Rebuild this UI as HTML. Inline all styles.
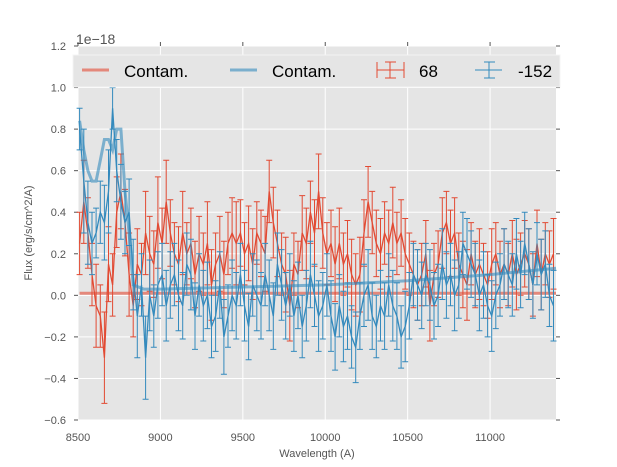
<!DOCTYPE html>
<html><head><meta charset="utf-8"><style>
body{margin:0;background:#fff;}
svg{display:block;font-family:"Liberation Sans",sans-serif;}
</style></head><body>
<svg id="chart" width="617" height="467" viewBox="0 0 617 467" xmlns="http://www.w3.org/2000/svg">
<rect x="78" y="46" width="478" height="374" fill="#e5e5e5"/>
<g id="grid"></g>
<g id="ticks"></g>
<g id="series"></g>
<text x="76" y="44" font-size="14" fill="#555">1e−18</text>
<text x="317" y="457" font-size="11" fill="#555" text-anchor="middle">Wavelength (A)</text>
<text x="32" y="233" font-size="11" fill="#555" text-anchor="middle" transform="rotate(-90 32 233)">Flux (erg/s/cm^2/A)</text>
<g>
<rect x="73" y="55" width="487" height="32" fill="#e5e5e5" stroke="#f4f4f4" stroke-width="1"/>
<g>
<line x1="82" y1="70" x2="109" y2="70" stroke="#E24A33" stroke-opacity="0.6" stroke-width="3"/>
<text x="124" y="77" font-size="17" fill="#000">Contam.</text></g>
<g>
<line x1="230" y1="70" x2="257" y2="70" stroke="#348ABD" stroke-opacity="0.6" stroke-width="3"/>
<text x="272" y="77" font-size="17" fill="#000">Contam.</text></g>
<g stroke="#E24A33" stroke-width="1">
<line x1="377" y1="70" x2="404" y2="70"/><line x1="377" y1="62" x2="377" y2="78"/><line x1="404" y1="62" x2="404" y2="78"/><line x1="385" y1="62" x2="396" y2="62"/><line x1="385" y1="78" x2="396" y2="78"/><line x1="390" y1="62" x2="390" y2="78"/>
<text x="419" y="77" font-size="17" fill="#000" stroke="none">68</text></g>
<g stroke="#348ABD" stroke-width="1">
<line x1="475" y1="70" x2="502" y2="70"/><line x1="484" y1="62" x2="495" y2="62"/><line x1="484" y1="78" x2="495" y2="78"/><line x1="489" y1="62" x2="489" y2="78"/>
<text x="518" y="77" font-size="17" fill="#000" stroke="none">-152</text></g>
</g>
</svg>
<script>
const wavelengths=[8510,8535,8560,8585,8610,8635,8660,8685,8710,8735,8760,8785,8810,8835,8860,8885,8910,8935,8960,8985,9010,9035,9060,9085,9110,9135,9160,9185,9210,9235,9260,9285,9310,9335,9360,9385,9410,9435,9460,9485,9510,9535,9560,9585,9610,9635,9660,9685,9710,9735,9760,9785,9810,9835,9860,9885,9910,9935,9960,9985,10010,10035,10060,10085,10110,10135,10160,10185,10210,10235,10260,10285,10310,10335,10360,10385,10410,10435,10460,10485,10510,10535,10560,10585,10610,10635,10660,10685,10710,10735,10760,10785,10810,10835,10860,10885,10910,10935,10960,10985,11010,11035,11060,11085,11110,11135,11160,11185,11210,11235,11260,11285,11310,11335,11360,11385];
const flux68=[0.25,0.45,0.3,0.1,-0.05,-0.1,-0.3,0.15,0.05,0.4,0.5,0.35,0.1,-0.05,0.15,0.1,0.3,0.2,0.15,0.35,0.25,0.45,0.3,0.2,0.15,0.3,0.2,0.25,0.1,0.2,0.15,0.25,0.05,0.15,0.2,0.1,0.25,0.3,0.25,0.3,0.2,0.25,0.15,0.3,0.25,0.2,0.5,0.35,0.25,0.15,0.1,-0.05,0.15,0.1,0.3,0.25,0.4,0.3,0.5,0.3,0.2,0.25,0.15,0.25,0.15,0.2,0.1,0.05,0.1,0.3,0.45,0.35,0.25,0.2,0.3,0.25,0.35,0.25,0.3,0.2,0.15,0.1,0.05,0.1,0.2,-0.05,0.1,0.15,0.3,0.35,0.25,0.3,0.15,0.1,0.05,0.2,0.1,0.15,0.1,0.05,0.15,0.2,0.1,0.15,0.1,0.2,0.1,0.15,0.2,0.15,0.05,0.25,0.1,0.2,0.15,0.2];
const err68=[0.15,0.2,0.17,0.15,0.2,0.15,0.22,0.18,0.15,0.17,0.18,0.16,0.2,0.15,0.17,0.15,0.2,0.18,0.16,0.22,0.17,0.2,0.16,0.15,0.18,0.2,0.15,0.17,0.16,0.18,0.15,0.2,0.17,0.15,0.18,0.16,0.15,0.17,0.2,0.16,0.15,0.18,0.17,0.15,0.16,0.18,0.15,0.17,0.16,0.15,0.18,0.17,0.15,0.16,0.18,0.17,0.15,0.16,0.18,0.17,0.15,0.16,0.18,0.17,0.15,0.16,0.17,0.15,0.18,0.16,0.17,0.15,0.16,0.17,0.15,0.16,0.17,0.15,0.16,0.17,0.15,0.16,0.17,0.15,0.16,0.17,0.15,0.16,0.17,0.15,0.16,0.17,0.15,0.16,0.17,0.15,0.16,0.17,0.15,0.16,0.17,0.15,0.16,0.17,0.15,0.16,0.17,0.15,0.16,0.17,0.15,0.16,0.17,0.15,0.16,0.17];
const flux152=[0.8,0.55,0.35,0.25,0.3,0.4,0.35,0.5,0.9,0.6,0.45,0.35,0.4,0.1,-0.1,0.05,-0.3,0.0,-0.1,0.05,0.1,-0.05,0.05,0.1,0.0,-0.05,0.15,0.1,-0.1,0.05,-0.05,0.0,-0.15,-0.1,0.05,-0.2,-0.1,0.0,-0.05,0.1,-0.05,-0.15,0.05,0.0,-0.05,0.1,0.0,-0.1,0.15,0.05,-0.05,0.05,-0.1,0.0,-0.15,-0.05,0.1,0.0,-0.1,-0.05,0.05,-0.1,-0.2,-0.05,-0.15,-0.1,-0.2,-0.25,-0.1,0.0,0.05,-0.1,-0.15,-0.05,-0.1,0.05,-0.05,-0.1,-0.2,-0.15,-0.05,0.1,0.05,0.0,0.1,0.05,-0.05,0.0,0.15,0.05,0.1,0.0,0.05,0.25,0.2,0.15,0.1,0.0,0.05,-0.05,-0.1,0.0,0.05,0.15,0.1,0.05,0.2,0.1,0.25,0.15,0.05,0.2,0.1,0.15,0.0,-0.05,-0.1];
const err152=[0.1,0.25,0.2,0.15,0.12,0.15,0.18,0.2,0.1,0.15,0.18,0.15,0.16,0.17,0.2,0.15,0.2,0.17,0.15,0.16,0.15,0.17,0.16,0.15,0.17,0.16,0.15,0.17,0.16,0.15,0.17,0.16,0.15,0.17,0.16,0.18,0.15,0.17,0.16,0.15,0.17,0.16,0.15,0.17,0.16,0.15,0.17,0.16,0.15,0.17,0.16,0.15,0.17,0.16,0.15,0.17,0.16,0.15,0.17,0.16,0.15,0.17,0.16,0.15,0.17,0.16,0.15,0.17,0.16,0.15,0.17,0.16,0.15,0.17,0.16,0.15,0.17,0.16,0.15,0.17,0.16,0.15,0.17,0.16,0.15,0.17,0.16,0.15,0.17,0.16,0.15,0.17,0.16,0.15,0.17,0.16,0.15,0.17,0.16,0.15,0.17,0.16,0.15,0.17,0.16,0.15,0.17,0.16,0.15,0.17,0.16,0.15,0.17,0.16,0.15,0.17];
const contamBlueWl=[8510,8535,8560,8585,8610,8635,8660,8685,8710,8735,8760,8785,8810,8835,8900,9000,9500,10000,10500,11000,11400];
const contamBlue=[0.84,0.7,0.6,0.55,0.55,0.65,0.75,0.75,0.7,0.8,0.8,0.5,0.3,0.05,0.03,0.03,0.04,0.05,0.07,0.1,0.13];
const contamRedWl=[8510,11400];
const contamRed=[0.01,0.01];
const xTicks=[8500,9000,9500,10000,10500,11000];
const yTicks=[-0.6,-0.4,-0.2,0.0,0.2,0.4,0.6,0.8,1.0,1.2];
const yTickLabels=["−0.6","−0.4","−0.2","0.0","0.2","0.4","0.6","0.8","1.0","1.2"];

const NS="http://www.w3.org/2000/svg";
const X0=78,X1=556,Y0=420,Y1=46;
function xs(w){return X0+(w-8500)/(11400-8500)*(X1-X0);}
function ys(v){return Y0-(v+0.6)/1.8*(Y0-Y1);}
function mk(tag,attrs,parent){const e=document.createElementNS(NS,tag);for(const k in attrs)e.setAttribute(k,attrs[k]);parent.appendChild(e);return e;}
const grid=document.getElementById('grid'),ticks=document.getElementById('ticks'),ser=document.getElementById('series');
xTicks.forEach(t=>{const x=xs(t);
 const g=mk('line',{x1:x,x2:x,y1:Y1,y2:Y0,stroke:'#fff','stroke-width':1},grid);
 
 
 mk('line',{x1:x,x2:x,y1:Y1-4,y2:Y1,stroke:'#555'},ticks);
 const tx=mk('text',{x:x,y:441,'font-size':11,fill:'#555','text-anchor':'middle'},ticks);tx.textContent=t;
 
 
});
yTicks.forEach((t,i)=>{const y=ys(t);
 const g=mk('line',{x1:X0,x2:X1,y1:y,y2:y,stroke:'#fff','stroke-width':1},grid);
 
 
 mk('line',{x1:X0-4,x2:X0,y1:y,y2:y,stroke:'#555'},ticks);
 mk('line',{x1:X1,x2:X1+4,y1:y,y2:y,stroke:'#555'},ticks);
 const tx=mk('text',{x:X0-12,y:y+4,'font-size':11,fill:'#555','text-anchor':'end'},ticks);tx.textContent=yTickLabels[i];
 
 
});
function linePath(wl,v){let d='';for(let i=0;i<Math.min(wl.length,v.length);i++){d+=(i?'L':'M')+xs(wl[i]).toFixed(1)+','+ys(v[i]).toFixed(1);}return d;}
const cr=mk('path',{d:linePath(contamRedWl,contamRed),stroke:'#E24A33','stroke-opacity':0.6,'stroke-width':3,fill:'none'},ser);


function errSeries(wl,v,e,color,name){
 const g=mk('g',{stroke:color,'stroke-width':1,fill:'none'},ser);
 
 
 let d='';const n=Math.min(wl.length,v.length,e.length);
 for(let i=0;i<n;i++){const x=xs(wl[i]),a=ys(v[i]+e[i]),b=ys(v[i]-e[i]);
  d+='M'+x.toFixed(1)+','+a.toFixed(1)+'V'+b.toFixed(1)+'M'+(x-3).toFixed(1)+','+a.toFixed(1)+'h6M'+(x-3).toFixed(1)+','+b.toFixed(1)+'h6';}
 mk('path',{d:d},g);
 mk('path',{d:linePath(wl,v),'stroke-width':1.3},g);
}
errSeries(wavelengths,flux68,err68,'#E24A33','series-68');
errSeries(wavelengths,flux152,err152,'#348ABD','series-minus152');
const cb=mk('path',{d:linePath(contamBlueWl,contamBlue),stroke:'#348ABD','stroke-opacity':0.6,'stroke-width':3,fill:'none'},ser);


</script>
</body></html>
